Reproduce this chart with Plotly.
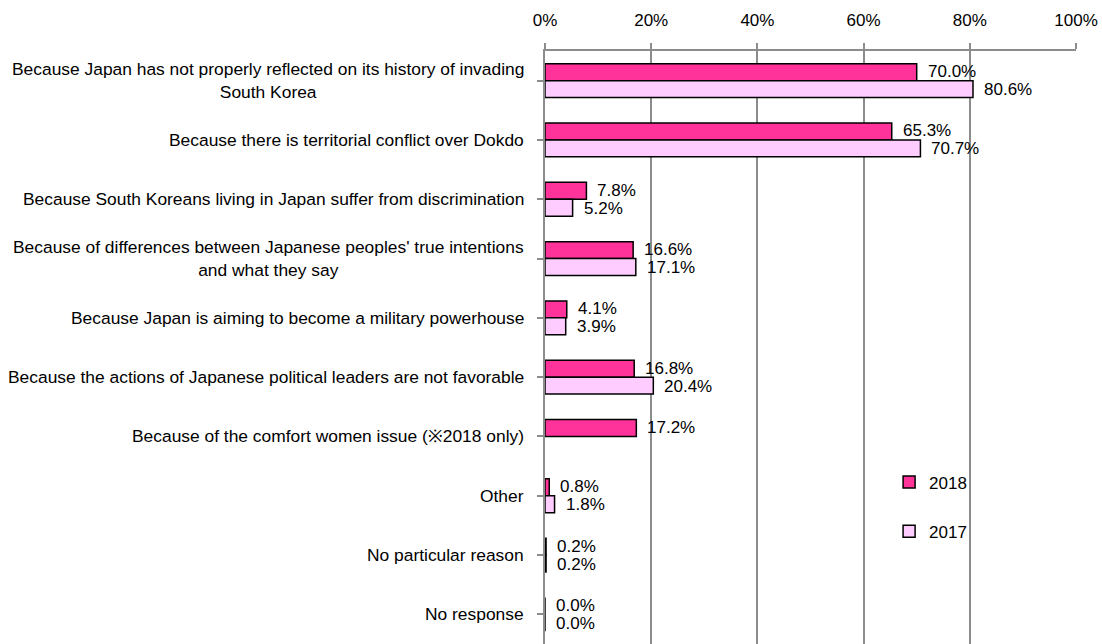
import plotly.graph_objects as go

categories = [
    "Because Japan has not properly reflected on its history of invading<br>South Korea",
    "Because there is territorial conflict over Dokdo",
    "Because South Koreans living in Japan suffer from discrimination",
    "Because of differences between Japanese peoples' true intentions<br>and what they say",
    "Because Japan is aiming to become a military powerhouse",
    "Because the actions of Japanese political leaders are not favorable",
    "Because of the comfort women issue (\u203b2018 only)",
    "Other",
    "No particular reason",
    "No response",
]
vals_2018 = [70.0, 65.3, 7.8, 16.6, 4.1, 16.8, 17.2, 0.8, 0.2, 0.0]
vals_2017 = [80.6, 70.7, 5.2, 17.1, 3.9, 20.4, None, 1.8, 0.2, 0.0]
x_ticks = [0, 20, 40, 60, 80, 100]

FONT = "Liberation Sans, Arial, sans-serif"
FS = 17
FS_CAT = 17.4
GRID = "#8C8C8C"
keys = list(range(len(categories)))

fig = go.Figure()
series = [("2018", vals_2018, "#FF3399"), ("2017", vals_2017, "#FFCCFF")]
for name, vals, color in series:
    fig.add_trace(go.Bar(
        y=keys, x=[v / 100 if v is not None else None for v in vals],
        orientation="h", name=name, legendgroup=name,
        marker=dict(color=color, line=dict(color="#000000", width=1.5)),
    ))

# value labels beside each bar
for si, (name, vals, color) in enumerate(series):
    for k, v in zip(keys, vals):
        if v is None:
            continue
        fig.add_annotation(
            x=v / 100, y=k, xref="x", yref="y", text=f"{v:.1f}%",
            showarrow=False, xanchor="left", yanchor="middle",
            xshift=9, yshift=9 if si == 0 else -9,
            font=dict(family=FONT, size=FS, color="#000000"),
        )

# category labels, lines centred on each other
for k, c in zip(keys, categories):
    fig.add_annotation(
        x=0, y=k, xref="paper", yref="y", text=c, showarrow=False,
        xanchor="right", yanchor="middle", align="center", xshift=-19,
        font=dict(family=FONT, size=FS_CAT, color="#000000"),
    )

fig.update_layout(
    width=1102, height=644,
    margin=dict(l=545, r=26, t=51, b=0),
    paper_bgcolor="white", plot_bgcolor="white",
    barmode="group", bargap=0.43, bargroupgap=0,
    font=dict(family=FONT, size=FS, color="#000000"),
    legend=dict(x=0.648, y=0.231, xanchor="left", yanchor="middle",
                traceorder="grouped", tracegroupgap=24,
                font=dict(family=FONT, size=FS), bgcolor="rgba(0,0,0,0)"),
)
fig.update_xaxes(
    side="top", range=[0, 1], tickvals=[t / 100 for t in x_ticks],
    ticktext=[f"{t}%" for t in x_ticks],
    showgrid=True, gridcolor=GRID, gridwidth=1.5,
    showline=True, linecolor=GRID, linewidth=1.5,
    ticks="outside", ticklen=6, tickcolor=GRID, tickwidth=1.5,
    ticklabelstandoff=10,
    zeroline=False, fixedrange=True,
)
fig.update_yaxes(
    tickvals=keys, showticklabels=False,
    range=[len(categories) - 0.5, -0.5],
    showline=True, linecolor=GRID, linewidth=1.5,
    ticks="outside", ticklen=6, tickcolor=GRID, tickwidth=1.5,
    tickson="boundaries", showgrid=False, zeroline=False,
)

fig.write_html("out.html")
